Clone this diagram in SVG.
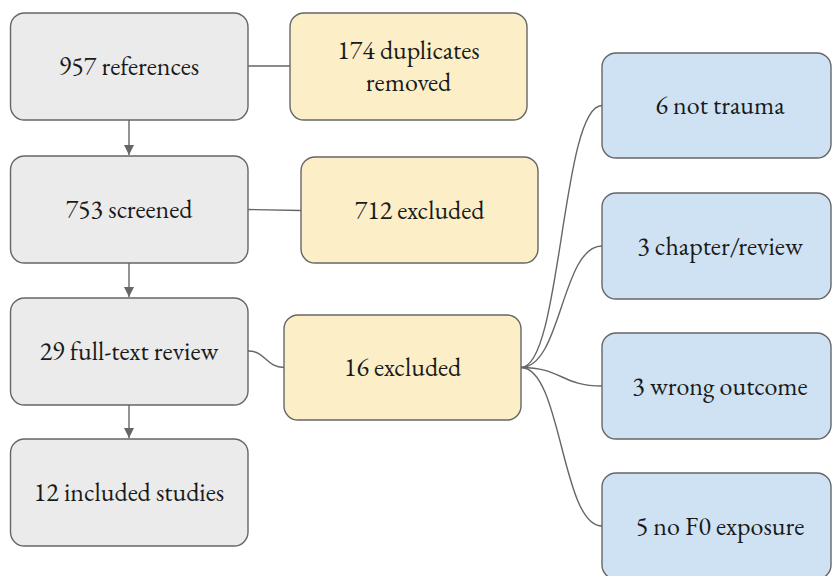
<svg xmlns="http://www.w3.org/2000/svg" width="832" height="576" viewBox="0 0 832 576">
  <style>
    .box { stroke: #666666; stroke-width: 1.4; }
    .gray { fill: #ebebeb; }
    .yellow { fill: #fcefc8; }
    .blue { fill: #cfe2f3; }
    .label { font-size: 26px; fill: #1a1a1a; text-anchor: middle; }
    .link { fill: none; stroke: #666666; stroke-width: 1.4; }
  </style>
  <defs>
    <marker id="arrow" viewBox="0 0 10 12" refX="10" refY="6" markerWidth="10" markerHeight="12" markerUnits="userSpaceOnUse" orient="auto">
      <path d="M0,1 L10,6 L0,11 Z" fill="#666666"/>
    </marker>
  </defs>
  <rect width="832" height="576" fill="#ffffff"/>

  <!-- connectors -->
  <g id="connectors">
    <path class="link" d="M129,120 L129,155" marker-end="url(#arrow)"/>
    <path class="link" d="M129,263 L129,297" marker-end="url(#arrow)"/>
    <path class="link" d="M129,405 L129,438" marker-end="url(#arrow)"/>
    <path class="link" d="M248,66 L290,66"/>
    <path class="link" d="M248,209.5 L301,210.5"/>
    <path class="link" d="M248,351 C266,351 266,367.5 284,367.5"/>
    <path class="link" d="M521,367.5 C561.5,367.5 561.5,105.5 602,105.5"/>
    <path class="link" d="M521,367.5 C561.5,367.5 561.5,246 602,246"/>
    <path class="link" d="M521,367.5 C561.5,367.5 561.5,386 602,386"/>
    <path class="link" d="M521,367.5 C561.5,367.5 561.5,526 602,526"/>
  </g>

  <g font-family="EB Garamond, Liberation Serif, serif">
    <!-- main flow -->
    <g id="n-references">
      <rect class="box gray" x="10.5" y="13" width="237.5" height="107" rx="14"/>
      <text class="label" x="129" y="75">957 references</text>
    </g>
    <g id="n-screened">
      <rect class="box gray" x="10.5" y="156" width="237.5" height="107" rx="14"/>
      <text class="label" x="129" y="218">753 screened</text>
    </g>
    <g id="n-fulltext">
      <rect class="box gray" x="10.5" y="298" width="237.5" height="107" rx="14"/>
      <text class="label" x="129" y="360">29 full-text review</text>
    </g>
    <g id="n-included">
      <rect class="box gray" x="10.5" y="439" width="237.5" height="107" rx="14"/>
      <text class="label" x="129" y="501">12 included studies</text>
    </g>

    <!-- exclusions -->
    <g id="n-duplicates">
      <rect class="box yellow" x="290" y="13" width="237" height="107" rx="14"/>
      <text class="label" x="408.5" y="59">174 duplicates</text>
      <text class="label" x="408.5" y="91">removed</text>
    </g>
    <g id="n-excluded-screen">
      <rect class="box yellow" x="301" y="157" width="237" height="106" rx="14"/>
      <text class="label" x="419.5" y="219">712 excluded</text>
    </g>
    <g id="n-excluded-full">
      <rect class="box yellow" x="284" y="315" width="237" height="105" rx="14"/>
      <text class="label" x="402.5" y="376">16 excluded</text>
    </g>

    <!-- full-text exclusion reasons -->
    <g id="n-not-trauma">
      <rect class="box blue" x="602" y="53" width="229" height="105" rx="14"/>
      <text class="label" x="720" y="114">6 not trauma</text>
    </g>
    <g id="n-chapter">
      <rect class="box blue" x="602" y="193" width="229" height="106" rx="14"/>
      <text class="label" x="720" y="255">3 chapter/review</text>
    </g>
    <g id="n-outcome">
      <rect class="box blue" x="602" y="333" width="229" height="106" rx="14"/>
      <text class="label" x="720" y="395">3 wrong outcome</text>
    </g>
    <g id="n-exposure">
      <rect class="box blue" x="602" y="473" width="229" height="106" rx="14"/>
      <text class="label" x="720" y="535">5 no F0 exposure</text>
    </g>
  </g>
</svg>
